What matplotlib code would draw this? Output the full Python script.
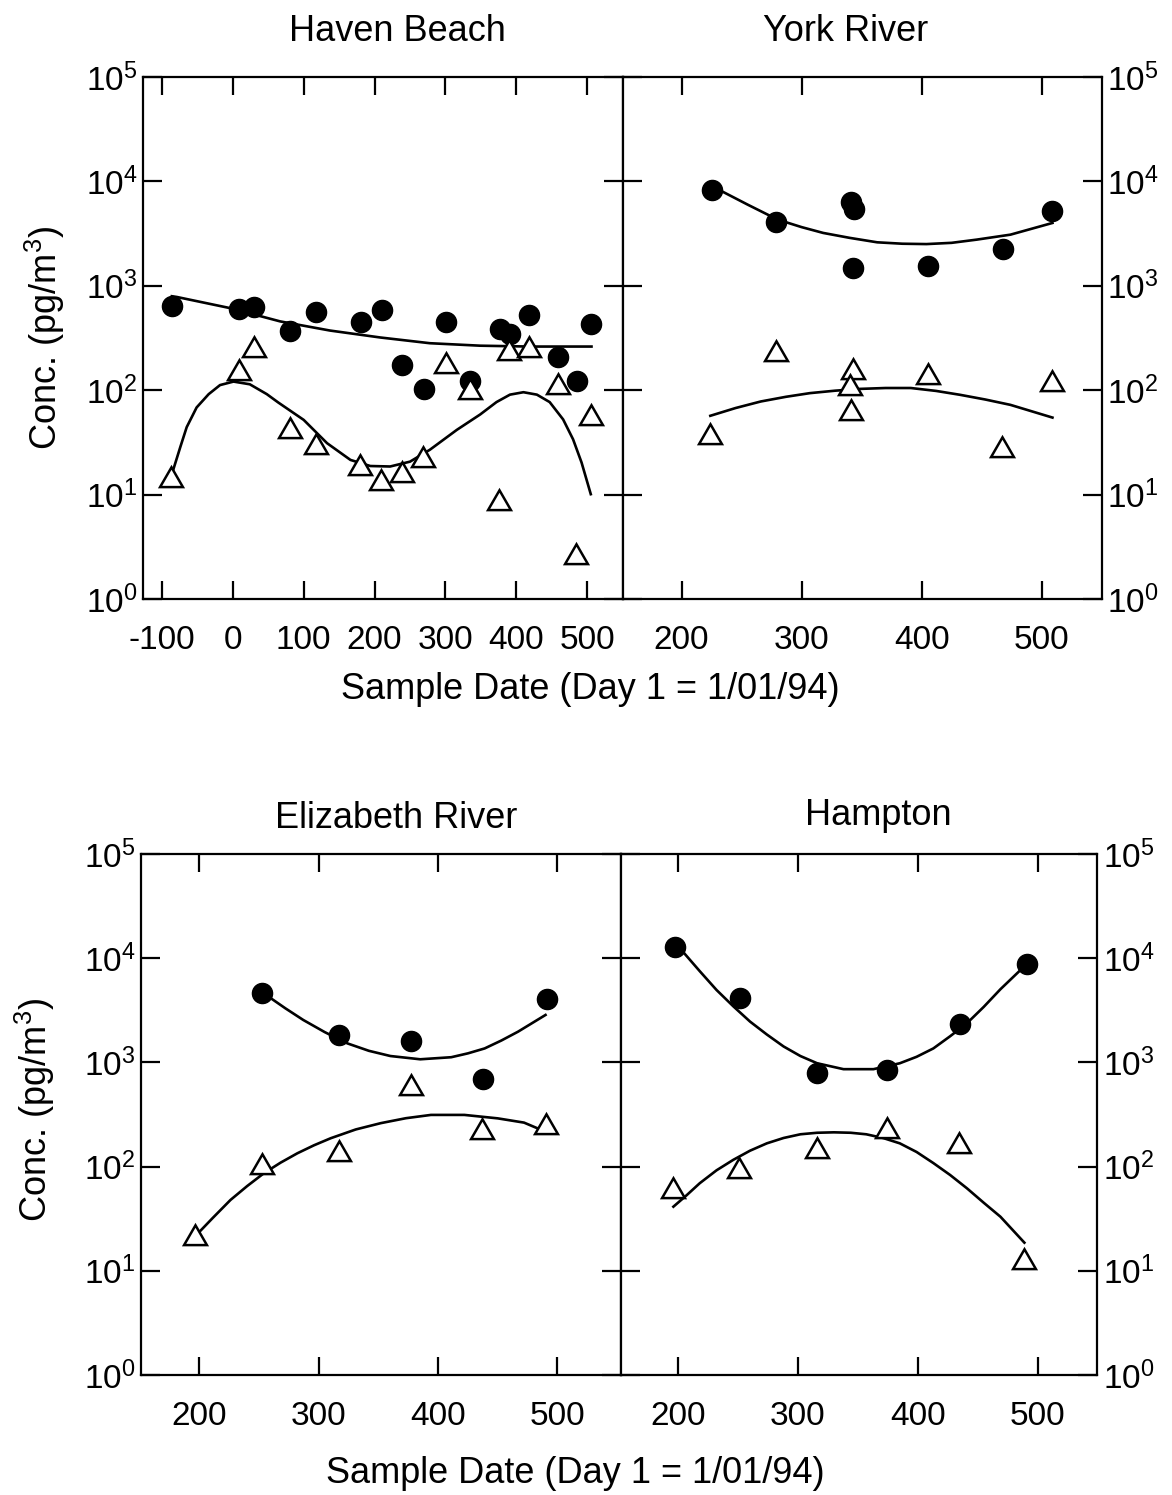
import numpy as np
import matplotlib
matplotlib.use("Agg")
import matplotlib.pyplot as plt

plt.rcParams['font.family'] = ['Liberation Sans', 'DejaVu Sans']
plt.rcParams['mathtext.fontset'] = 'custom'
plt.rcParams['mathtext.rm'] = 'Liberation Sans'
plt.rcParams['mathtext.it'] = 'Liberation Sans:italic'

# ---------------- Haven Beach ----------------
hb_circ_x = [-86, 9, 30, 81, 118, 181, 210, 238, 270, 301, 335, 377, 391, 418, 459, 485, 506]
hb_circ_y = [644, 600, 627, 366, 565, 450, 590, 174, 102, 450, 122, 386, 348, 528, 206, 123, 434]
hb_tri_x = [-87, 9, 30, 81, 117, 180, 209, 238, 269, 301, 335, 376, 390, 418, 459, 484, 506]
hb_tri_y = [13.8, 146, 244, 41, 28.8, 17.9, 12.8, 15.4, 21.5, 169, 97, 8.3, 227, 244, 107, 2.5, 54]
hb_fitc_x = [-86, -79, -4, 67, 137, 208, 278, 349, 419, 506]
hb_fitc_y = [795, 782, 612, 456, 373, 320, 282, 267, 262, 262]
hb_fitt_x = [-84, -74, -65, -51, -34, -18, 1, 24, 48, 64, 100, 133, 166, 194, 222, 250,
             278, 316, 349, 372, 391, 410, 429, 447, 466, 480, 492, 505]
hb_fitt_y = [17.3, 28.6, 44.3, 68.4, 91.7, 112, 121, 114, 91.7, 76.4, 52.0, 31.1, 21.5,
             18.8, 18.6, 20.7, 26.9, 41.7, 58.6, 77.0, 90.7, 95.7, 90.7, 77.0, 52.5, 33.9,
             20.3, 10.1]

# ---------------- York River ----------------
yr_circ_x = [225, 279, 341, 344, 343, 405, 468, 509]
yr_circ_y = [8340, 4050, 6300, 5500, 1480, 1540, 2250, 5170]
yr_tri_x = [224, 279, 343, 340, 341, 405, 467, 509]
yr_tri_y = [36, 222, 151, 105, 61, 134, 26.8, 115]
yr_fitc_x = [224, 232, 255, 280, 300, 318, 340, 363, 384, 404, 425, 446, 474, 509]
yr_fitc_y = [8500, 8220, 6000, 4310, 3650, 3210, 2880, 2610, 2530, 2510, 2580, 2770, 3090, 4000]
yr_fitt_x = [224, 245, 266, 287, 307, 328, 349, 370, 391, 412, 432, 453, 474, 509]
yr_fitt_y = [56.9, 67.5, 78.0, 86.5, 93.8, 99.0, 103, 105, 105, 98.5, 90.4, 81.5, 72.4, 54.7]

# ---------------- Elizabeth River ----------------
er_circ_x = [252, 317, 377, 438, 491]
er_circ_y = [4670, 1833, 1604, 693, 4055]
er_tri_x = [196, 252, 317, 377, 437, 490]
er_tri_y = [20.8, 99.8, 131, 564, 215, 242]
er_fitc_x = [252, 257, 272, 287, 305, 324, 342, 360, 385, 411, 425, 439, 453, 467, 490]
er_fitc_y = [4900, 4340, 3300, 2550, 1950, 1520, 1290, 1150, 1070, 1120, 1220, 1360, 1620, 1970, 2850]
er_fitt_x = [196, 211, 226, 240, 254, 268, 282, 296, 310, 331, 352, 373, 394, 422, 450, 472, 490]
er_fitt_y = [21.2, 32.0, 47.8, 65.0, 86.3, 109, 134, 160, 187, 227, 261, 291, 313, 313, 290, 264, 216]

# ---------------- Hampton ----------------
hp_circ_x = [197, 252, 316, 374, 435, 491]
hp_circ_y = [12900, 4180, 796, 845, 2340, 8790]
hp_tri_x = [196, 251, 316, 374, 434, 489]
hp_tri_y = [58.8, 91.4, 142, 220, 158, 12.0]
hp_fitc_x = [198, 204, 218, 232, 246, 260, 274, 288, 302, 316, 338, 363, 385, 399, 413, 427,
             441, 455, 469, 491]
hp_fitc_y = [13500, 11500, 7500, 4950, 3450, 2460, 1850, 1420, 1150, 980, 860, 860, 980, 1130,
             1360, 1780, 2370, 3400, 5030, 8790]
hp_fitt_x = [196, 207, 218, 232, 246, 260, 274, 288, 302, 316, 330, 344, 357, 371, 385, 399,
             413, 427, 441, 455, 469, 489]
hp_fitt_y = [41.2, 53.0, 69.2, 92.0, 116, 142, 167, 188, 204, 211, 213, 211, 204, 188, 167,
             138, 108, 83.0, 61.9, 45.0, 33.0, 18.6]

panels = [
    dict(title="Haven Beach", cx=hb_circ_x, cy=hb_circ_y, tx=hb_tri_x, ty=hb_tri_y,
         fcx=hb_fitc_x, fcy=hb_fitc_y, ftx=hb_fitt_x, fty=hb_fitt_y,
         xlim=(-127, 550), xticks=[-100, 0, 100, 200, 300, 400, 500], side='left',
         rect=[0.1218, 0.5993, 0.4095, 0.3492]),
    dict(title="York River", cx=yr_circ_x, cy=yr_circ_y, tx=yr_tri_x, ty=yr_tri_y,
         fcx=yr_fitc_x, fcy=yr_fitc_y, ftx=yr_fitt_x, fty=yr_fitt_y,
         xlim=(151, 550), xticks=[200, 300, 400, 500], side='right',
         rect=[0.5313, 0.5993, 0.4087, 0.3492]),
    dict(title="Elizabeth River", cx=er_circ_x, cy=er_circ_y, tx=er_tri_x, ty=er_tri_y,
         fcx=er_fitc_x, fcy=er_fitc_y, ftx=er_fitt_x, fty=er_fitt_y,
         xlim=(151, 553), xticks=[200, 300, 400, 500], side='left',
         rect=[0.1203, 0.0803, 0.4093, 0.3485]),
    dict(title="Hampton", cx=hp_circ_x, cy=hp_circ_y, tx=hp_tri_x, ty=hp_tri_y,
         fcx=hp_fitc_x, fcy=hp_fitc_y, ftx=hp_fitt_x, fty=hp_fitt_y,
         xlim=(152, 550), xticks=[200, 300, 400, 500], side='right',
         rect=[0.5296, 0.0803, 0.4068, 0.3485]),
]

fig = plt.figure(figsize=(11.72, 14.95), dpi=100)
yticks = [1, 10, 100, 1000, 10000, 100000]
ylabels = [r"$\mathregular{10^{%d}}$" % i for i in range(6)]

for p in panels:
    ax = fig.add_axes(p['rect'])
    ax.set_yscale('log')
    ax.set_ylim(1, 1e5)
    ax.set_xlim(*p['xlim'])
    ax.plot(p['fcx'], p['fcy'], color='black', lw=1.9, zorder=2, solid_joinstyle='round')
    ax.plot(p['ftx'], p['fty'], color='black', lw=1.9, zorder=2, solid_joinstyle='round')
    ax.plot(p['cx'], p['cy'], linestyle='none', marker='o', ms=14.5,
            mfc='black', mec='black', zorder=3)
    ax.plot(p['tx'], p['ty'], linestyle='none', marker=(3, 0, 0), ms=19,
            mfc='white', mec='black', mew=1.8, zorder=4)
    ax.set_xticks(p['xticks'])
    ax.set_xticklabels([str(v) for v in p['xticks']], fontsize=24)
    ax.set_yticks(yticks)
    ax.yaxis.set_minor_locator(matplotlib.ticker.NullLocator())
    ax.set_yticklabels(ylabels, fontsize=24)
    for s in ax.spines.values():
        s.set_linewidth(1.6)
    ax.tick_params(axis='x', which='major', direction='in', top=True, bottom=True,
                   length=13, width=1.6, pad=19)
    if p['side'] == 'left':
        ax.tick_params(axis='y', which='major', direction='in', left=True, right=True,
                       labelleft=True, labelright=False, length=14, width=1.6, pad=4)
    else:
        ax.tick_params(axis='y', which='major', direction='in', left=True, right=True,
                       labelleft=False, labelright=True, length=14, width=1.6, pad=4)

fig.text(0.3387, 0.9786, "Haven Beach", ha='center', va='center', fontsize=26)
fig.text(0.7218, 0.9786, "York River", ha='center', va='center', fontsize=26)
fig.text(0.3379, 0.4528, "Elizabeth River", ha='center', va='center', fontsize=26)
fig.text(0.7491, 0.4548, "Hampton", ha='center', va='center', fontsize=26)
fig.text(0.5034, 0.5385, "Sample Date (Day 1 = 1/01/94)", ha='center', va='center', fontsize=26)
fig.text(0.4906, 0.0147, "Sample Date (Day 1 = 1/01/94)", ha='center', va='center', fontsize=26)
fig.text(0.0384, 0.774, r"Conc. (pg/m$\mathregular{^3}$)", ha='center', va='center',
         rotation=90, fontsize=26)
fig.text(0.0299, 0.2575, r"Conc. (pg/m$\mathregular{^3}$)", ha='center', va='center',
         rotation=90, fontsize=26)

fig.savefig("out.png", dpi=100)
